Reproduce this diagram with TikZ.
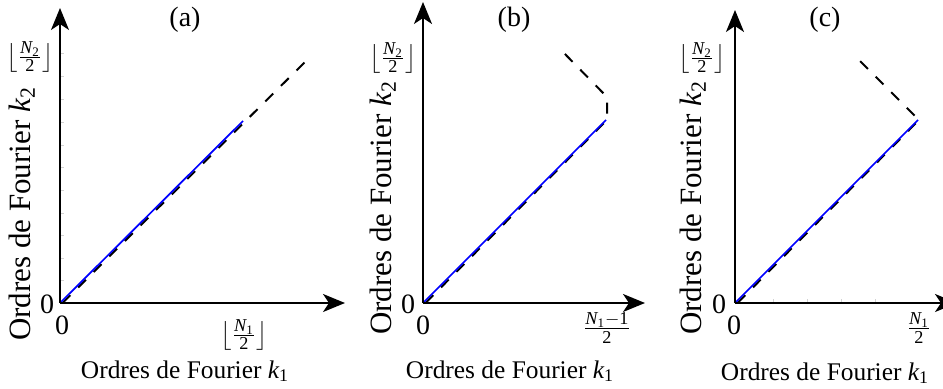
\documentclass[tikz,border=0pt]{standalone}
\usepackage{fontspec}
\usepackage{amsmath}
\setmainfont{Liberation Serif}
\usetikzlibrary{arrows.meta}
\newcommand{\vi}[2]{\text{\itshape #1}_{\text{#2}}}
\begin{document}
\begin{tikzpicture}[x=0.5pt,y=-0.5pt,
  axis/.style={line width=1pt,-{Stealth[length=11pt,width=9pt,inset=3pt]}},
  blueline/.style={blue,line width=0.85pt},
  dashline/.style={black,line width=1pt,dash pattern=on 5.5pt off 5.5pt},
  lbl/.style={font=\fontsize{12.7}{15}\selectfont,inner sep=0pt},
  titlbl/.style={font=\fontsize{14}{16}\selectfont,inner sep=0pt},
  fraclbl/.style={font=\fontsize{13}{15}\selectfont,inner sep=0pt},
  zlbl/.style={font=\fontsize{14}{16}\selectfont,inner sep=0pt},
  ylbl/.style={font=\fontsize{15.5}{18}\selectfont,inner sep=0pt,rotate=90},
  faint/.style={gray!35,line width=0.3pt}]
\useasboundingbox (0,0) rectangle (943,389);
\clip (0,0) rectangle (943,389);
% ---------- panel (a)
\coordinate (oa) at (60,303);
\coordinate (ya) at (60,8);
\coordinate (xa) at (345,303);
\coordinate (ea) at (243,121);
\coordinate (fa) at (310,57);
\foreach \t in {53,76,99,122,145,167,190,213,235,258,280}
  \draw[faint] (60,\t) -- (64,\t);
\draw[dashline] ([shift={(2.5,0)}]oa) -- (fa);
\draw[blueline] (oa) -- (ea);
\draw[axis] (oa) -- (ya);
\draw[axis] (oa) -- (xa);
\node[titlbl] (ta) at (185,20) {(a)};
\node[fraclbl] (n2a) at (30,57) {$\bigl\lfloor\frac{\vi{N}{2}}{\text{2}}\bigr\rfloor$};
\node[zlbl] (z1a) at (47,304) {0};
\node[zlbl] (z2a) at (62,325) {0};
\node[fraclbl] (n1a) at (244,335) {$\bigl\lfloor\frac{\vi{N}{1}}{\text{2}}\bigr\rfloor$};
\node[lbl] (xla) at (185,371) {Ordres de Fourier $\vi{k}{1}$};
\node[ylbl] (yla) at (22,214) {Ordres de Fourier $\vi{k}{2}$};
% ---------- panel (b)
\coordinate (ob) at (423,303);
\coordinate (yb) at (423,2);
\coordinate (xb) at (645,303);
\coordinate (eb) at (606,120);
\coordinate (cb) at (607,120);
\coordinate (gb) at (607,97);
\coordinate (fb) at (562,51);
\draw[dashline] ([shift={(2.5,0)}]ob) -- (cb) -- (gb) -- (fb);
\draw[blueline] (ob) -- (eb);
\draw[axis] (ob) -- (yb);
\draw[axis] (ob) -- (xb);
\node[titlbl] (tb) at (514,20) {(b)};
\node[fraclbl] (n2b) at (393,58) {$\bigl\lfloor\frac{\vi{N}{2}}{\text{2}}\bigr\rfloor$};
\node[zlbl] (z1b) at (408,304) {0};
\node[zlbl] (z2b) at (423,325) {0};
\node[fraclbl] (n1b) at (607,328) {$\frac{\vi{N}{1}-\text{1}}{\text{2}}$};
\node[lbl] (xlb) at (510,371) {Ordres de Fourier $\vi{k}{1}$};
\node[ylbl] (ylb) at (383,208) {Ordres de Fourier $\vi{k}{2}$};
% ---------- panel (c)
\coordinate (oc) at (735,303);
\coordinate (yc) at (735,10);
\coordinate (xc) at (957,303);
\coordinate (ec) at (918,120);
\coordinate (cc) at (919,120);
\coordinate (fc) at (856,57);
\foreach \t in {773,807,841,875}
  \draw[faint] (\t,303) -- (\t,299);
\draw[dashline] ([shift={(2.5,0)}]oc) -- (cc) -- (fc);
\draw[blueline] (oc) -- (ec);
\draw[axis] (oc) -- (yc);
\draw[axis] (oc) -- (xc);
\node[titlbl] (tc) at (825,20) {(c)};
\node[fraclbl] (n2c) at (702,58) {$\bigl\lfloor\frac{\vi{N}{2}}{\text{2}}\bigr\rfloor$};
\node[zlbl] (z1c) at (719,304) {0};
\node[zlbl] (z2c) at (734,325) {0};
\node[fraclbl] (n1c) at (919,328) {$\frac{\vi{N}{1}}{\text{2}}$};
\node[lbl] (xlc) at (825,373) {Ordres de Fourier $\vi{k}{1}$};
\node[ylbl] (ylc) at (693,208) {Ordres de Fourier $\vi{k}{2}$};
\end{tikzpicture}
\end{document}
